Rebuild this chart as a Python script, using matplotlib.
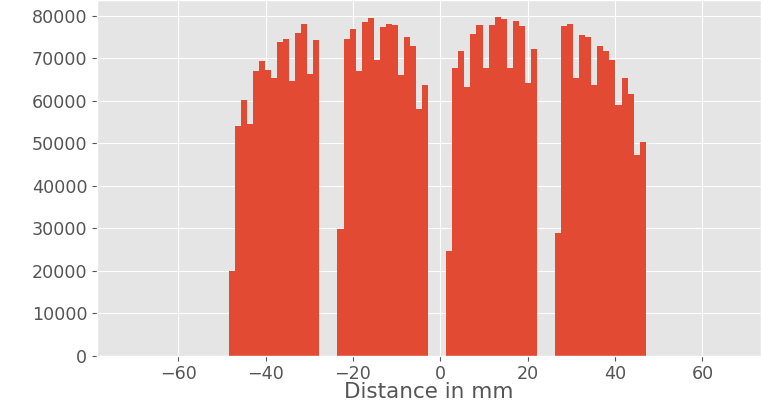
import numpy as np
import matplotlib
matplotlib.use("Agg")
import matplotlib.pyplot as plt

plt.style.use("ggplot")

# Counts per bin, four blocks of 15 bins separated by 3 empty bins each
block1 = [20000, 54000, 60300, 54600, 66900, 69400, 67300, 65300, 73800, 74500, 64700, 75900, 78100, 66400, 74300]
block2 = [29800, 74500, 76900, 66900, 78500, 79400, 69600, 77300, 78000, 77900, 66100, 75100, 73000, 58100, 63800]
block3 = [24800, 67700, 71800, 63200, 75700, 77900, 67700, 77900, 79700, 79200, 67700, 78800, 77700, 64300, 72200]
block4 = [28900, 77700, 78000, 65300, 75400, 75000, 63600, 72900, 71800, 69600, 59000, 65300, 61600, 47300, 50200]
gap = [0, 0, 0]

counts = np.array(block1 + gap + block2 + gap + block3 + gap + block4, dtype=float)
x_min, x_max = -48.45, 47.0
edges = np.linspace(x_min, x_max, len(counts) + 1)
centers = 0.5 * (edges[:-1] + edges[1:])

fig = plt.figure(figsize=(7.61, 4.01), dpi=100)
ax = fig.add_axes([0.1275, 0.1122, 0.8725, 0.8878])

ax.hist(centers, bins=edges, weights=counts)

ax.set_xlim(-78.6, 73.4)
ax.set_ylim(0, 83700)
ax.set_xticks([-60, -40, -20, 0, 20, 40, 60])
ax.set_yticks(np.arange(0, 80001, 10000))
ax.tick_params(labelsize=12.6)
ax.tick_params(axis="x", pad=3)
ax.set_xlabel("Distance in mm", fontsize=15.5, labelpad=-1)

fig.savefig("out.png", dpi=100)
